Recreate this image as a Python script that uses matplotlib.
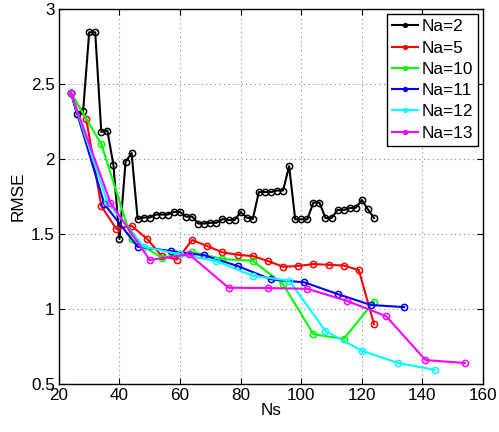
import matplotlib

matplotlib.use("Agg")
import matplotlib.pyplot as plt

plt.rcParams["font.family"] = ["Liberation Sans", "DejaVu Sans"]

# Na=2
ns_2 = list(range(24, 125, 2))
rmse_2 = [2.44, 2.30, 2.32, 2.845, 2.845, 2.18, 2.19, 1.96, 1.467, 1.98,
          2.04, 1.60, 1.61, 1.61, 1.63, 1.63, 1.63, 1.647, 1.647, 1.616,
          1.616, 1.57, 1.57, 1.575, 1.575, 1.60, 1.593, 1.593, 1.647, 1.61,
          1.60, 1.78, 1.78, 1.78, 1.79, 1.79, 1.953, 1.598, 1.598, 1.598,
          1.71, 1.71, 1.607, 1.607, 1.66, 1.66, 1.673, 1.675, 1.727, 1.665,
          1.607]
# Na=5
ns_5 = list(range(24, 125, 5))
rmse_5 = [2.44, 2.27, 1.687, 1.533, 1.555, 1.47, 1.353, 1.33, 1.46, 1.42,
          1.378, 1.362, 1.353, 1.32, 1.282, 1.287, 1.30, 1.295, 1.29, 1.26, 0.90]
# Na=10
ns_10 = list(range(24, 125, 10))
rmse_10 = [2.44, 2.10, 1.465, 1.342, 1.38, 1.333, 1.322, 1.165, 0.833, 0.80, 1.05]
# Na=11
ns_11 = list(range(24, 135, 11))
rmse_11 = [2.44, 1.70, 1.415, 1.387, 1.358, 1.287, 1.198, 1.178, 1.10, 1.027, 1.013]
# Na=12
ns_12 = list(range(24, 145, 12))
rmse_12 = [2.44, 1.715, 1.415, 1.365, 1.32, 1.222, 1.19, 0.853, 0.722, 0.64, 0.595]
# Na=13
ns_13 = list(range(24, 155, 13))
rmse_13 = [2.44, 1.71, 1.327, 1.365, 1.142, 1.14, 1.135, 1.055, 0.953, 0.66, 0.64]

series = [
    ("Na=2", ns_2, rmse_2, "black"),
    ("Na=5", ns_5, rmse_5, "#ff0000"),
    ("Na=10", ns_10, rmse_10, "#00ff00"),
    ("Na=11", ns_11, rmse_11, "#0000ff"),
    ("Na=12", ns_12, rmse_12, "#00ffff"),
    ("Na=13", ns_13, rmse_13, "#ff00ff"),
]

fig = plt.figure(figsize=(4.99, 4.32), dpi=100)
ax = fig.add_axes([0.118, 0.111, 0.850, 0.868])

for name, xs, ys, c in series:
    ax.plot(xs, ys, "-o", color=c, lw=1.5, ms=4.5, mfc="none", mew=1.1, label=name)

ax.set_xlim(20, 160)
ax.set_ylim(0.5, 3)
ax.set_xticks(range(20, 161, 20))
ax.set_yticks([0.5, 1, 1.5, 2, 2.5, 3])
ax.set_yticklabels(["0.5", "1", "1.5", "2", "2.5", "3"])
ax.tick_params(direction="in", top=True, right=True, labelsize=12.3, length=4, pad=3)
ax.grid(True, ls=(0, (1, 3)), color="#888888", lw=0.8)
for s in ax.spines.values():
    s.set_linewidth(1.0)
ax.set_xlabel("Ns", fontsize=12.3, labelpad=0)
ax.set_ylabel("RMSE", fontsize=12.3, labelpad=3.5)

leg = ax.legend(loc="upper right", fontsize=12.4, frameon=True, fancybox=False,
                edgecolor="black", framealpha=1, handlelength=1.5,
                handletextpad=0.2, borderpad=0.3, labelspacing=0.36,
                markerscale=0.6, borderaxespad=0.3)
leg.get_frame().set_linewidth(1.0)
for h in leg.legend_handles:
    h.set_markerfacecolor(h.get_color())

fig.savefig("out.png", dpi=100)
